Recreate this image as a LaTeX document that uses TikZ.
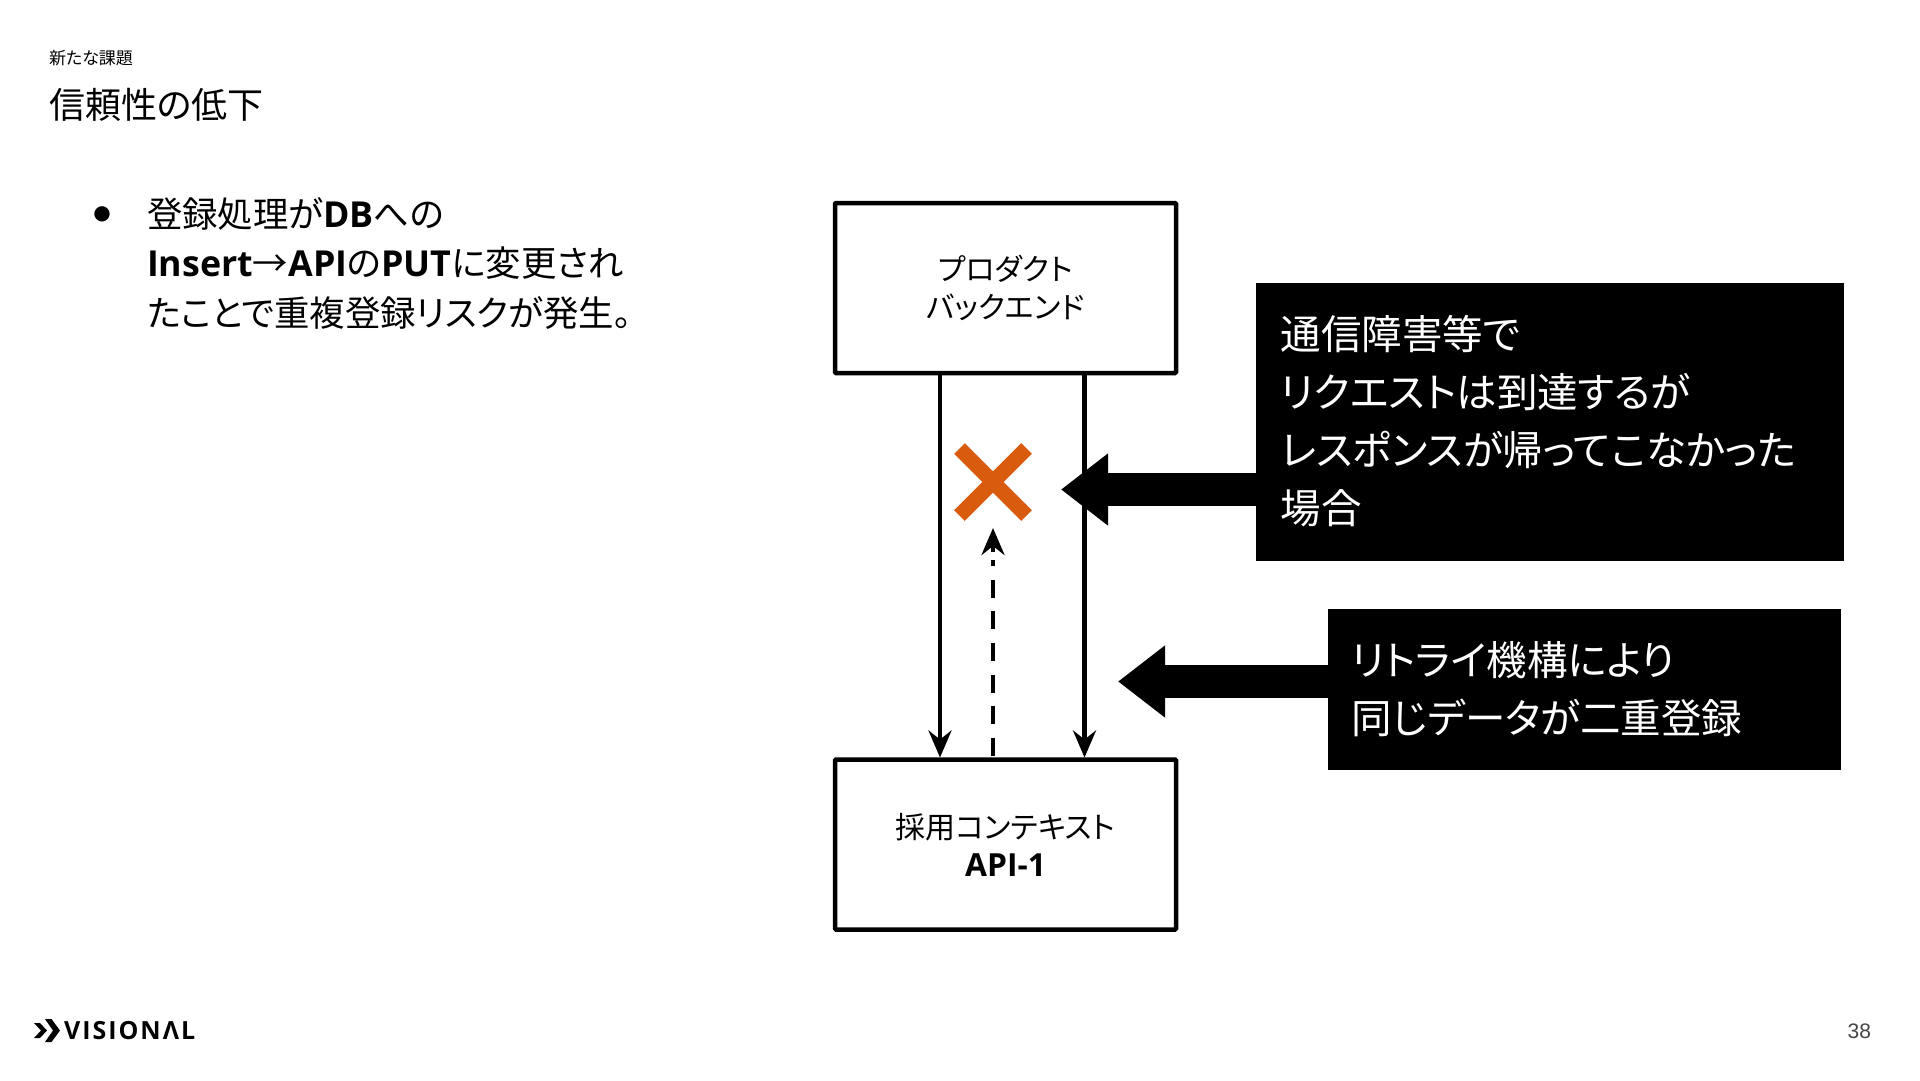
\documentclass[tikz,border=0pt]{standalone}
\usepackage{fontspec}
\usetikzlibrary{arrows.meta}
\newfontfamily\jp{Noto Sans CJK JP}[RawFeature=+palt]
\newfontfamily\latb{Open Sans}[Scale=1.06]
\newfontfamily\latc{Open Sans}[Scale=1.01]
\newfontfamily\logofont{Open Sans}[LetterSpace=8]
\newfontfamily\numfont{Liberation Sans}
\newfontfamily\dejavu{DejaVu Sans}
\newcommand{\LT}[1]{{\latb\bfseries #1}}
\newcommand{\LB}[1]{{\latc\bfseries #1}}
\definecolor{numgray}{HTML}{444444}
\definecolor{xorange}{HTML}{D95B0E}
\tikzset{
  x=1pt,y=-1pt,
  sysbox/.style={draw=black,line width=4.5pt,rounded corners=1pt,minimum width=341pt,minimum height=170pt,align=center,inner sep=0pt,outer sep=0pt,font=\jp\fontsize{30}{38}\selectfont},
  callout/.style={fill=black,text=white,anchor=north west,inner ysep=0pt,align=left,outer sep=0pt,font=\jp\fontsize{40.5}{58}\selectfont},
  flow/.style={line width=4.5pt,-{Stealth[length=27pt,width=23pt,inset=9pt]}},
  retry/.style={line width=4.5pt,dash pattern=on 18pt off 13.7pt},
  retryhead/.style={line width=4.5pt,-{Stealth[length=27pt,width=23pt,inset=9pt]}},
  bigarrow/.style={line width=33pt,-{Triangle[length=47pt,width=69pt]}},
  crossmark/.style={line width=15pt,draw=xorange},
  plain/.style={inner sep=0pt,outer sep=0pt,anchor=west,align=left}
}
\begin{document}
\begin{tikzpicture}
\useasboundingbox (0,0) rectangle (1920,1080);
\fill[white] (0,0) rectangle (1920,1080);
% headings
\node[plain,font=\jp\fontsize{17}{20}\selectfont] (kicker) at (49,58) {新たな課題};
\node[plain,font=\jp\fontsize{36}{40}\selectfont] (title) at (49,105) {信頼性の低下};
% bullet
\node[inner sep=0pt,outer sep=0pt,font=\dejavu\fontsize{20}{20}\selectfont] (bullet) at (102,214) {●};
\node[plain,font=\jp\fontsize{35.4}{49.5}\selectfont] (body) at (147,263.5) {登録処理が\LB{DB}への\\\LB{Insert}→\LB{API}の\LB{PUT}に変更され\\たことで重複登録リスクが発生。};
% boxes
\node[sysbox] (back) at (1005.5,288) {プロダクト\\バックエンド};
\node[sysbox] (api) at (1005.5,844.5) {採用コンテキスト\\\LT{API-1}};
% connector positions
\coordinate (lx) at (940,0);
\coordinate (rx) at (1084.5,0);
\coordinate (dx) at (993,0);
\coordinate (xmark) at (993,482);
\coordinate (uptip) at (993,528);
\coordinate (dashtop) at (993,560);
\coordinate (headbase) at (993,552);
\draw[flow,shorten >=2pt] (back.south -| lx) -- (api.north -| lx);
\draw[flow,shorten >=2pt] (back.south -| rx) -- (api.north -| rx);
\draw[retry] ([yshift=3.5pt]api.north -| dx) -- (dashtop);
\draw[retryhead] (headbase) -- (uptip);
% cross
\draw[crossmark] (xmark) ++(-33.5,-33.5) -- ++(67,67);
\draw[crossmark] (xmark) ++(33.5,-33.5) -- ++(-67,67);
% callouts
\node[callout,minimum width=588.5pt,minimum height=276pt,text width=538.5pt,inner xsep=25pt] (c1) at (1255.5,283) {通信障害等で\\リクエストは到達するが\\レスポンスが帰ってこなかった\\場合};
\node[callout,minimum width=513.5pt,minimum height=161pt,text width=465.5pt,inner xsep=24pt] (c2) at (1327.5,609) {リトライ機構により\\同じデータが二重登録};
\fill[black] (c1.south west) rectangle ([yshift=-2pt]c1.south east) ;
\coordinate (tipa) at (1061,489.5);
\coordinate (tipb) at (1118,681.5);
\draw[bigarrow] (c1.west |- tipa) -- (tipa);
\draw[bigarrow] (c2.west |- tipb) -- (tipb);
% footer
\fill[black] (34,1023) -- (40,1023) -- (47,1030.5) -- (40,1038) -- (34,1038) -- (41,1030.5) -- cycle;
\fill[black] (45,1019) -- (51.5,1019) -- (60,1030.5) -- (51.5,1042) -- (45,1042) -- (53,1030.5) -- cycle;
\node[plain,font=\logofont\bfseries\fontsize{25}{25}\selectfont] (logo) at (64,1031) {VISIONΛL};
\node[inner sep=0pt,outer sep=0pt,anchor=east,text=numgray,font=\numfont\fontsize{21}{21}\selectfont] (page) at (1871,1031) {38};
\end{tikzpicture}
\end{document}
